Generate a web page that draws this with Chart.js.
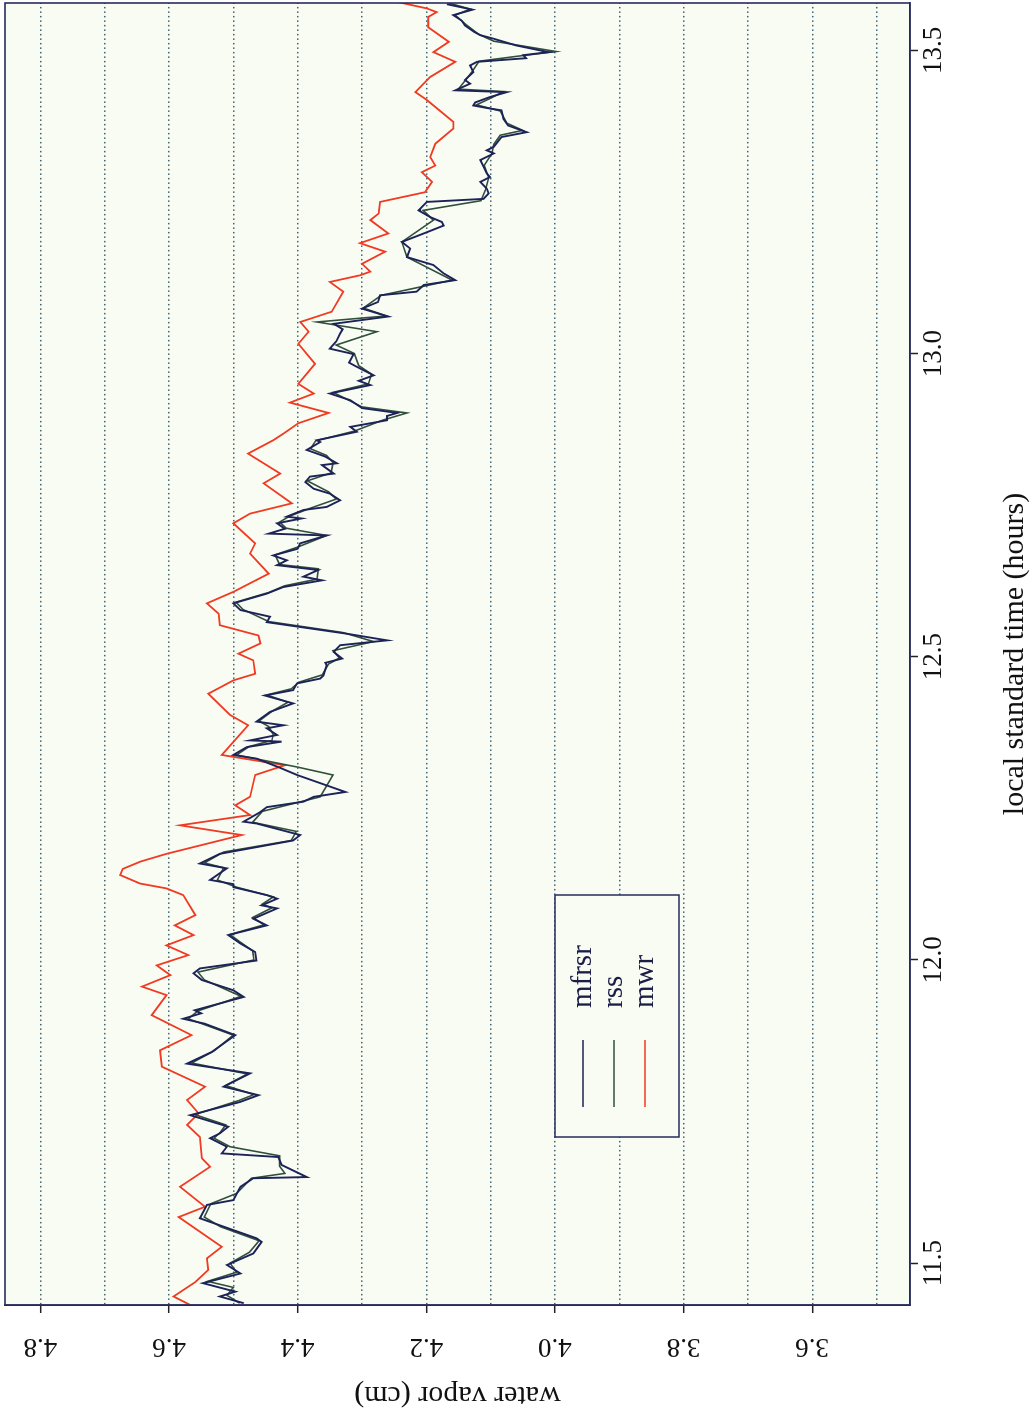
<!DOCTYPE html>
<html>
<head>
<meta charset="utf-8">
<script src="https://cdn.jsdelivr.net/npm/chart.js@4.4.1/dist/chart.umd.min.js"></script>
<style>
    html, body { margin: 0; padding: 0; background: #fff; overflow: hidden; }
    /* chart is drawn landscape and turned a quarter turn to the left */
    #wrap {
        position: absolute; left: 0; top: 0;
        width: 1420px; height: 1033px;
        transform-origin: 0 0;
        transform: translate(0, 1420px) rotate(-90deg);
    }
</style>
</head>
<body>
<div id="wrap"><canvas id="vaporChart" width="1420" height="1033"></canvas></div>
<script>
// local standard time (hours) / water vapor (cm)
const mfrsrTime = [
    11.434, 11.445, 11.453, 11.467, 11.483, 11.497, 11.516, 11.535, 11.541, 11.574, 11.596, 11.604, 11.626, 11.640, 11.642, 11.662, 11.675, 11.681, 11.692, 11.706, 11.714, 11.725, 11.744, 11.766,
    11.777, 11.791, 11.813, 11.829, 11.848, 11.876, 11.895, 11.903, 11.912, 11.917, 11.939, 11.950, 11.967, 11.978, 11.986, 11.999, 12.013, 12.027, 12.041, 12.057, 12.068, 12.085, 12.090, 12.101, 12.107, 12.120,
    12.125, 12.132, 12.151, 12.159, 12.175, 12.197, 12.206, 12.225, 12.228, 12.244, 12.252, 12.261, 12.269, 12.277, 12.305, 12.318, 12.332, 12.338, 12.351, 12.360, 12.362, 12.371, 12.382, 12.387, 12.393, 12.409, 12.423, 12.436, 12.445, 12.456, 12.464, 12.469, 12.486,
    12.490, 12.497, 12.508, 12.519, 12.527, 12.538, 12.557, 12.566, 12.577, 12.588, 12.604, 12.615, 12.626, 12.632, 12.643, 12.651, 12.659, 12.667, 12.678, 12.687, 12.700, 12.703, 12.711, 12.720, 12.728, 12.731, 12.742, 12.747, 12.758, 12.769, 12.777, 12.788, 12.797, 12.802, 12.816, 12.819, 12.830, 12.841, 12.854,
    12.857, 12.871, 12.879, 12.890, 12.897, 12.902, 12.910, 12.923, 12.934, 12.948, 12.955, 12.964, 12.978, 12.985, 12.999, 13.008, 13.020, 13.033, 13.040, 13.049, 13.061, 13.074, 13.085, 13.096, 13.102, 13.113, 13.121, 13.132, 13.146, 13.159, 13.173, 13.184, 13.200, 13.211,
    13.217, 13.225, 13.236, 13.250, 13.255, 13.264, 13.272, 13.283, 13.291, 13.297, 13.308, 13.319, 13.330, 13.335, 13.341, 13.357, 13.365, 13.376, 13.387, 13.401, 13.404, 13.409, 13.414, 13.423, 13.431, 13.434, 13.445, 13.451, 13.464, 13.475, 13.481, 13.487, 13.492, 13.497, 13.508, 13.519, 13.525, 13.530, 13.541, 13.549, 13.558, 13.567, 13.576
];
const mfrsrVapor = [
    4.484, 4.521, 4.497, 4.547, 4.489, 4.510, 4.469, 4.456, 4.464, 4.552, 4.541, 4.500, 4.489, 4.469, 4.386, 4.425, 4.430, 4.518, 4.510, 4.536, 4.521, 4.508, 4.567, 4.489,
    4.461, 4.515, 4.474, 4.572, 4.534, 4.497, 4.545, 4.578, 4.550, 4.560, 4.484, 4.500, 4.549, 4.562, 4.552, 4.464, 4.466, 4.489, 4.508, 4.448, 4.469, 4.432, 4.456, 4.432, 4.448, 4.500,
    4.500, 4.536, 4.510, 4.552, 4.521, 4.407, 4.396, 4.464, 4.484, 4.458, 4.448, 4.391, 4.375, 4.326, 4.401, 4.430, 4.464, 4.500, 4.479, 4.425, 4.474, 4.432, 4.448, 4.422, 4.464, 4.443, 4.407, 4.451, 4.407, 4.401, 4.365, 4.360, 4.355,
    4.357, 4.331, 4.344, 4.334, 4.261, 4.324, 4.448, 4.443, 4.489, 4.500, 4.448, 4.422, 4.362, 4.391, 4.368, 4.432, 4.417, 4.438, 4.400, 4.396, 4.355, 4.445, 4.420, 4.432, 4.394, 4.417, 4.391, 4.355, 4.334, 4.350, 4.375, 4.388, 4.381, 4.344, 4.362, 4.339, 4.357, 4.386, 4.365,
    4.370, 4.308, 4.318, 4.261, 4.261, 4.245, 4.300, 4.318, 4.350, 4.287, 4.305, 4.282, 4.308, 4.320, 4.313, 4.350, 4.340, 4.334, 4.330, 4.344, 4.259, 4.300, 4.275, 4.272, 4.215, 4.204, 4.155, 4.173, 4.189, 4.230, 4.225, 4.238, 4.199, 4.173,
    4.176, 4.194, 4.212, 4.199, 4.111, 4.103, 4.106, 4.116, 4.101, 4.106, 4.111, 4.116, 4.095, 4.106, 4.095, 4.083, 4.044, 4.073, 4.080, 4.083, 4.101, 4.127, 4.124, 4.101, 4.075, 4.155, 4.132, 4.140, 4.127, 4.132, 4.121, 4.045, 4.049, 4.010, 4.060, 4.095, 4.116, 4.125, 4.140, 4.145, 4.158, 4.128, 4.168
];

const rssTime = [
    11.434, 11.447, 11.460, 11.470, 11.485, 11.500, 11.518, 11.537, 11.560, 11.576, 11.598, 11.615, 11.640, 11.648, 11.660, 11.677, 11.692, 11.706, 11.716, 11.728,
    11.745, 11.768, 11.778, 11.793, 11.812, 11.830, 11.850, 11.876, 11.903, 11.916, 11.940, 11.967, 11.980, 12.000, 12.015, 12.030, 12.042, 12.058, 12.070, 12.086,
    12.092, 12.104, 12.120, 12.132, 12.152, 12.160, 12.178, 12.197, 12.212, 12.227, 12.245, 12.269, 12.305, 12.318, 12.338, 12.352, 12.362, 12.372, 12.385, 12.394,
    12.410, 12.425, 12.437, 12.447, 12.458, 12.470, 12.488, 12.498, 12.510, 12.525, 12.540, 12.558, 12.578, 12.590, 12.606, 12.617, 12.628, 12.645, 12.652, 12.668,
    12.680, 12.700, 12.712, 12.722, 12.732, 12.745, 12.760, 12.772, 12.790, 12.803, 12.820, 12.832, 12.843, 12.856, 12.872, 12.890, 12.902, 12.912, 12.936, 12.950,
    12.966, 12.980, 13.000, 13.014, 13.036, 13.052, 13.062, 13.075, 13.096, 13.113, 13.121, 13.132, 13.159, 13.184, 13.220, 13.236, 13.252, 13.270, 13.290, 13.310,
    13.330, 13.345, 13.360, 13.368, 13.380, 13.400, 13.410, 13.422, 13.432, 13.436, 13.452, 13.466, 13.482, 13.490, 13.498, 13.515, 13.526, 13.542, 13.558, 13.568, 13.578
];
const rssVapor = [
    4.490, 4.510, 4.500, 4.540, 4.495, 4.505, 4.475, 4.460, 4.520, 4.545, 4.535, 4.495, 4.472, 4.420, 4.428, 4.428, 4.505, 4.530, 4.520, 4.512,
    4.560, 4.492, 4.468, 4.512, 4.478, 4.565, 4.530, 4.500, 4.570, 4.555, 4.488, 4.545, 4.555, 4.468, 4.470, 4.490, 4.505, 4.452, 4.470, 4.440,
    4.455, 4.438, 4.495, 4.525, 4.515, 4.545, 4.515, 4.410, 4.402, 4.470, 4.455, 4.365, 4.345, 4.400, 4.495, 4.475, 4.440, 4.438, 4.445, 4.460,
    4.440, 4.415, 4.448, 4.410, 4.398, 4.362, 4.352, 4.335, 4.345, 4.282, 4.330, 4.445, 4.485, 4.496, 4.445, 4.420, 4.370, 4.368, 4.428, 4.435,
    4.402, 4.355, 4.418, 4.428, 4.412, 4.380, 4.340, 4.352, 4.385, 4.348, 4.345, 4.355, 4.380, 4.372, 4.312, 4.268, 4.230, 4.300, 4.345, 4.290,
    4.285, 4.305, 4.312, 4.340, 4.277, 4.370, 4.262, 4.298, 4.270, 4.195, 4.160, 4.180, 4.230, 4.238, 4.189, 4.205, 4.115, 4.108, 4.103, 4.110,
    4.098, 4.095, 4.085, 4.050, 4.075, 4.085, 4.122, 4.098, 4.080, 4.150, 4.138, 4.128, 4.118, 4.060, 3.998, 4.095, 4.118, 4.138, 4.155, 4.132, 4.165
];

const mwrTime = [
    11.431, 11.445, 11.469, 11.489, 11.508, 11.527, 11.576, 11.593, 11.626, 11.659, 11.673, 11.708, 11.728, 11.747, 11.769, 11.791, 11.824, 11.851, 11.876, 11.909,
    11.942, 11.956, 11.975, 11.991, 12.008, 12.024, 12.041, 12.057, 12.074, 12.107, 12.118, 12.126, 12.140, 12.150, 12.162, 12.175, 12.206, 12.222, 12.239, 12.255,
    12.269, 12.305, 12.321, 12.338, 12.387, 12.404, 12.439, 12.461, 12.472, 12.494, 12.505, 12.522, 12.535, 12.552, 12.571, 12.588, 12.607, 12.637, 12.670, 12.687,
    12.720, 12.736, 12.753, 12.786, 12.802, 12.835, 12.857, 12.868, 12.885, 12.902, 12.919, 12.934, 12.950, 12.983, 13.016, 13.036, 13.052, 13.069, 13.102, 13.118,
    13.129, 13.135, 13.148, 13.168, 13.182, 13.198, 13.220, 13.231, 13.250, 13.266, 13.283, 13.299, 13.310, 13.324, 13.346, 13.371, 13.382, 13.418, 13.431, 13.456,
    13.481, 13.497, 13.514, 13.538, 13.555, 13.563, 13.569, 13.580
];
const mwrVapor = [
    4.567, 4.593, 4.559, 4.539, 4.541, 4.518, 4.585, 4.544, 4.583, 4.536, 4.549, 4.552, 4.572, 4.554, 4.572, 4.544, 4.611, 4.614, 4.565, 4.627,
    4.604, 4.642, 4.598, 4.619, 4.570, 4.604, 4.562, 4.591, 4.559, 4.578, 4.604, 4.645, 4.676, 4.672, 4.645, 4.604, 4.487, 4.583, 4.474, 4.497,
    4.474, 4.466, 4.420, 4.518, 4.477, 4.505, 4.539, 4.500, 4.466, 4.469, 4.492, 4.458, 4.461, 4.521, 4.523, 4.541, 4.500, 4.445, 4.474, 4.466,
    4.500, 4.474, 4.409, 4.453, 4.427, 4.477, 4.438, 4.422, 4.399, 4.352, 4.412, 4.375, 4.399, 4.373, 4.399, 4.383, 4.396, 4.347, 4.329, 4.350,
    4.303, 4.287, 4.300, 4.264, 4.303, 4.259, 4.287, 4.274, 4.272, 4.202, 4.191, 4.207, 4.186, 4.194, 4.186, 4.158, 4.158, 4.199, 4.217, 4.194,
    4.155, 4.189, 4.165, 4.197, 4.197, 4.184, 4.199, 4.246
];

const seriesNames = ['mfrsr', 'rss', 'mwr'];
const seriesColors = ['#1d2259', '#31503b', '#f03a22'];

const plotBg = '#f9fcf3';
const frameColor = '#262b5e';
const gridColor = '#3f6272';
const textColor = '#111111';
const serif = 'Liberation Serif';

function toPoints(times, values) {
    return times.map((t, i) => ({ x: t, y: values[i] }));
}

// labels and tick marks only every 0.2 cm, grid lines every 0.1 cm
function isLabelled(v) {
    return Math.round(v * 10) % 2 === 0;
}

const framePlugin = {
    id: 'frame',
    beforeDraw(chart) {
        const { ctx, chartArea: a } = chart;
        ctx.save();
        ctx.fillStyle = '#ffffff';
        ctx.fillRect(0, 0, chart.width, chart.height);
        ctx.fillStyle = plotBg;
        ctx.fillRect(a.left, a.top, a.right - a.left, a.bottom - a.top);
        ctx.restore();
    },
    afterDatasetsDraw(chart) {
        const { ctx, chartArea: a } = chart;
        ctx.save();
        ctx.strokeStyle = frameColor;
        ctx.lineWidth = 1.6;
        ctx.strokeRect(a.left, a.top, a.right - a.left, a.bottom - a.top);

        // legend box inside the plot
        const box = { x: 283, y: 555, w: 242, h: 124 };
        ctx.fillStyle = plotBg;
        ctx.fillRect(box.x, box.y, box.w, box.h);
        ctx.strokeStyle = frameColor;
        ctx.lineWidth = 1.5;
        ctx.strokeRect(box.x, box.y, box.w, box.h);
        ctx.font = '29px "' + serif + '"';
        ctx.textBaseline = 'middle';
        chart.data.datasets.forEach((ds, i) => {
            const y = 583 + i * 31;
            ctx.strokeStyle = ds.borderColor;
            ctx.lineWidth = 1.6;
            ctx.beginPath();
            ctx.moveTo(313, y);
            ctx.lineTo(380, y);
            ctx.stroke();
            ctx.fillStyle = '#1a1d45';
            ctx.fillText(ds.label, 412, y);
        });
        ctx.restore();
    }
};

const ctx = document.getElementById('vaporChart').getContext('2d');

const chart = new Chart(ctx, {
    type: 'line',
    data: {
        datasets: [
            {
                label: seriesNames[0],
                data: toPoints(mfrsrTime, mfrsrVapor),
                borderColor: seriesColors[0],
                borderWidth: 1.9,
                pointRadius: 0,
                tension: 0
            },
            {
                label: seriesNames[1],
                data: toPoints(rssTime, rssVapor),
                borderColor: seriesColors[1],
                borderWidth: 1.6,
                pointRadius: 0,
                tension: 0
            },
            {
                label: seriesNames[2],
                data: toPoints(mwrTime, mwrVapor),
                borderColor: seriesColors[2],
                borderWidth: 1.8,
                pointRadius: 0,
                tension: 0
            }
        ]
    },
    options: {
        responsive: false,
        animation: false,
        layout: { padding: { top: 5, right: 3, left: 0, bottom: 0 } },
        plugins: {
            legend: { display: false },
            tooltip: { enabled: false }
        },
        scales: {
            x: {
                type: 'linear',
                min: 11.431,
                max: 13.578,
                afterFit: (scale) => {
                    scale.height = 123;
                    scale.paddingLeft = 0;
                    scale.paddingRight = 0;
                },
                border: { display: true, color: frameColor, width: 1.6 },
                grid: {
                    drawOnChartArea: false,
                    tickLength: 8,
                    tickColor: '#222222',
                    tickWidth: 1.5
                },
                ticks: {
                    stepSize: 0.5,
                    includeBounds: false,
                    maxRotation: 0,
                    padding: 0,
                    color: textColor,
                    font: { family: serif, size: 27 },
                    callback: (v) => v.toFixed(1)
                },
                title: {
                    display: true,
                    text: 'local standard time (hours)',
                    color: textColor,
                    font: { family: serif, size: 30 },
                    padding: { top: 0, bottom: 0 }
                }
            },
            y: {
                type: 'linear',
                min: 3.448,
                max: 4.855,
                afterFit: (scale) => {
                    scale.width = 115;
                    scale.paddingTop = 0;
                    scale.paddingBottom = 0;
                },
                border: { display: true, color: frameColor, width: 1.6, dash: [1.5, 3] },
                grid: {
                    color: gridColor,
                    lineWidth: 1.4,
                    tickLength: 8,
                    tickWidth: 1.5,
                    tickColor: (c) => (c.tick && isLabelled(c.tick.value)) ? '#222222' : 'transparent'
                },
                ticks: {
                    stepSize: 0.1,
                    includeBounds: false,
                    minRotation: 90,
                    maxRotation: 90,
                    crossAlign: 'center',
                    padding: 16,
                    color: textColor,
                    font: { family: serif, size: 27 },
                    callback: (v) => isLabelled(v) ? v.toFixed(1) : ''
                },
                title: {
                    display: true,
                    text: 'water vapor (cm)',
                    color: textColor,
                    font: { family: serif, size: 30 },
                    padding: { top: 7, bottom: 0 }
                }
            }
        }
    },
    plugins: [framePlugin]
});
</script>
</body>
</html>
